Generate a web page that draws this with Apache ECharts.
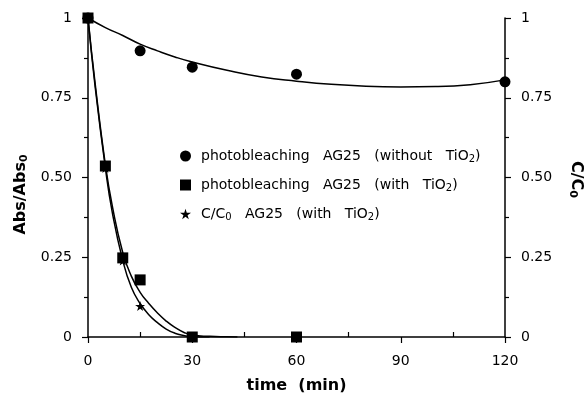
<!DOCTYPE html>
<html>
<head>
<meta charset="utf-8">
<script src="https://cdn.jsdelivr.net/npm/echarts@6/dist/echarts.min.js"></script>
<style>
  html, body { margin: 0; padding: 0; background: #fff; }
  #chart { width: 587px; height: 395px; }
</style>
</head>
<body>
<div id="chart"></div>
<script>
// measured points
var noTiO2 = [[0, 1], [15, 0.897], [30, 0.846], [60, 0.824], [120, 0.80]];
var withTiO2 = [[0, 1], [5, 0.536], [10, 0.248], [15, 0.179], [30, 0], [60, 0]];
var ccWithTiO2 = [[0, 1], [5, 0.53], [10, 0.24], [15, 0.097], [30, 0]];
// fitted curves
var fitNoTiO2 = [[0, 1], [5, 0.97], [10, 0.945], [15, 0.918], [20, 0.897], [25, 0.878], [30, 0.862],
  [40, 0.836], [50, 0.815], [60, 0.802], [70, 0.792], [80, 0.786], [90, 0.784], [100, 0.785],
  [110, 0.791], [120, 0.806]];
var fitWithTiO2 = [[0, 1], [2, 0.8], [5, 0.54], [7, 0.41], [10, 0.265], [12.5, 0.19], [15, 0.14],
  [17.5, 0.105], [20, 0.075], [22.5, 0.05], [25, 0.03], [27.5, 0.015], [30, 0.006], [35, 0.002],
  [40, 0.0005], [43, 0]];
var fitCC = [[0, 1], [2, 0.79], [5, 0.53], [7, 0.39], [10, 0.24], [12.5, 0.155], [15, 0.105],
  [17.5, 0.07], [20, 0.045], [22.5, 0.025], [25, 0.012], [27.5, 0.005], [30, 0.001], [35, 0]];
var yTickLabels = { '0': '0', '0.25': '0.25', '0.5': '0.50', '0.75': '0.75', '1': '1' };
var legendNames = ['noTi', 'withTi', 'cc'];

var starPath = 'path://M50,0 L61,35 L98,35 L68,57 L79,91 L50,70 L21,91 L32,57 L2,35 L39,35 Z';
var font = 'DejaVu Sans';
var lbl = { color: '#000', fontFamily: font, fontSize: 14 };

function yAxis(pos, name, rot) {
  return {
    type: 'value', position: pos, min: 0, max: 1, interval: 0.25,
    name: name, nameLocation: 'middle', nameRotate: rot, nameGap: pos == 'left' ? 58 : 62,
    nameTextStyle: {
      fontFamily: font, fontSize: 16, fontWeight: 'bold', color: '#000',
      padding: pos == 'left' ? [0, 34, 0, 0] : [0, 0, 0, 4],
      rich: {
        n: { fontFamily: font, fontSize: 16, fontWeight: 'bold', color: '#000' },
        s: { fontFamily: font, fontSize: 11, fontWeight: 'bold', color: '#000', verticalAlign: 'bottom', padding: [8, 0, 0, 0] }
      }
    },
    axisLine: { show: true, lineStyle: { color: '#000', width: 1.5 } },
    axisTick: { show: true, length: 6, lineStyle: { color: '#000', width: 1.2 } },
    minorTick: { show: true, splitNumber: 2, length: 4, lineStyle: { color: '#000', width: 1.2 } },
    axisLabel: Object.assign({ margin: 16, formatter: function (v) { return yTickLabels[String(v)]; } }, lbl),
    splitLine: { show: false }
  };
}

var chart = echarts.init(document.getElementById('chart'));
chart.setOption({
  animation: false,
  backgroundColor: '#fff',
  grid: { left: 88, right: 82, top: 18, bottom: 58, outerBoundsMode: 'none', containLabel: false },
  xAxis: {
    type: 'value', min: 0, max: 120, interval: 30,
    name: 'time  (min)', nameLocation: 'middle', nameGap: 41,
    nameTextStyle: { fontFamily: font, fontSize: 16, fontWeight: 'bold', color: '#000' },
    axisLine: { lineStyle: { color: '#000', width: 1.5 } },
    axisTick: { length: 6, lineStyle: { color: '#000', width: 1.2 } },
    minorTick: { show: true, splitNumber: 2, length: -5, lineStyle: { color: '#000', width: 1.2 } },
    axisLabel: Object.assign({ margin: 17 }, lbl),
    splitLine: { show: false }
  },
  yAxis: [
    yAxis('left', '{n|Abs/Abs}{s|0}', 90),
    yAxis('right', '{n|C/C}{s|0}', -90)
  ],
  legend: {
    data: legendNames, orient: 'vertical', left: 175, top: 144, itemGap: 14,
    itemWidth: 11, itemHeight: 11,
    formatter: function (n) {
      if (n == 'noTi') return '{t|photobleaching   AG25   (without   TiO}{s|2}{t|)}';
      if (n == 'withTi') return '{t|photobleaching   AG25   (with   TiO}{s|2}{t|)}';
      return '{t|C/C}{s|0}{t|   AG25   (with   TiO}{s|2}{t|)}';
    },
    textStyle: {
      padding: [0, 0, 0, 5],
      rich: {
        t: { fontFamily: font, fontSize: 14, color: '#000' },
        s: { fontFamily: font, fontSize: 10, color: '#000', verticalAlign: 'bottom', padding: [6, 0, 0, 0] }
      }
    }
  },
  series: [
    { type: 'line', data: fitNoTiO2, smooth: true, showSymbol: false, lineStyle: { color: '#000', width: 1.5 }, silent: true },
    { type: 'line', data: fitWithTiO2, smooth: true, showSymbol: false, lineStyle: { color: '#000', width: 1.5 }, silent: true },
    { type: 'line', data: fitCC, smooth: true, showSymbol: false, lineStyle: { color: '#000', width: 1.5 }, silent: true },
    { name: 'cc', type: 'scatter', data: ccWithTiO2, symbol: starPath, symbolSize: 10, itemStyle: { color: '#000', opacity: 1 } },
    { name: 'noTi', type: 'scatter', data: noTiO2, symbol: 'circle', symbolSize: 11, itemStyle: { color: '#000', opacity: 1 } },
    { name: 'withTi', type: 'scatter', data: withTiO2, symbol: 'rect', symbolSize: 11, itemStyle: { color: '#000', opacity: 1 } }
  ]
});
</script>
</body>
</html>
